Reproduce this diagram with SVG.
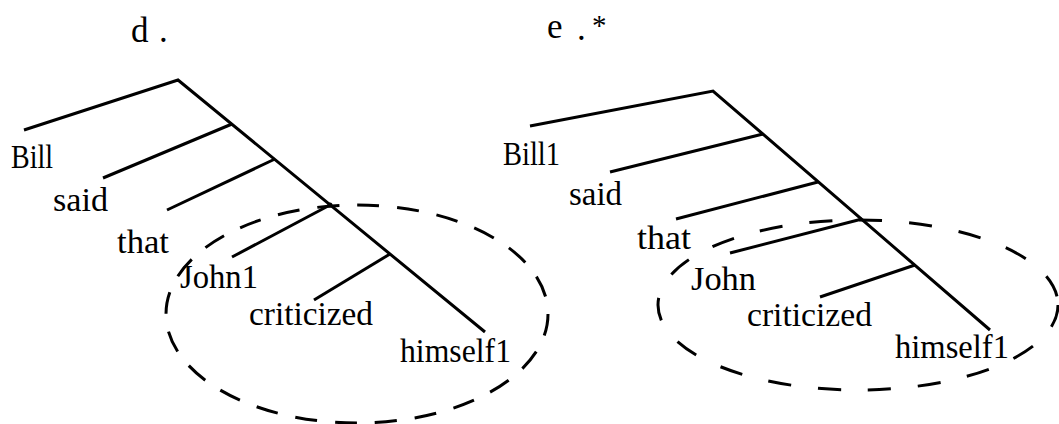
<svg xmlns="http://www.w3.org/2000/svg" width="1059" height="424" viewBox="0 0 1059 424">
  <style>
    .branch { stroke: #000; stroke-width: 3; fill: none; stroke-linecap: butt; }
    .scope { stroke: #000; stroke-width: 3; fill: none; }
    .word { font-family: "Liberation Serif", "Times New Roman", serif; font-size: 33px; fill: #000; }
    .title { font-family: "Liberation Serif", "Times New Roman", serif; font-size: 35px; fill: #000; }
  </style>
  <rect width="1059" height="424" fill="#fff"/>

  <!-- tree d: binding domain includes the antecedent -->
  <g id="tree-d">
    <text class="title" x="131" y="42">d<tspan x="159">.</tspan></text>
    <g id="d-connectors">
      <polyline class="branch" points="24,130 178,80 485,332"/>
      <line class="branch" x1="103" y1="178" x2="232" y2="124"/>
      <line class="branch" x1="167" y1="210" x2="275" y2="159"/>
      <line class="branch" x1="232" y1="257" x2="330" y2="205"/>
      <line class="branch" x1="314" y1="300" x2="390" y2="254"/>
      <circle cx="330" cy="205" r="2.5" fill="#000"/>
    </g>
    <ellipse id="d-domain" class="scope" cx="357" cy="314" rx="191" ry="109" stroke-dasharray="22 18"/>
    <g id="d-bill"><text class="word" x="11" y="168" textLength="42" lengthAdjust="spacingAndGlyphs">Bill</text></g>
    <g id="d-said"><text class="word" x="53" y="211" textLength="55" lengthAdjust="spacingAndGlyphs">said</text></g>
    <g id="d-that"><text class="word" x="117" y="253" textLength="52" lengthAdjust="spacingAndGlyphs">that</text></g>
    <g id="d-john"><text class="word" x="180" y="288" textLength="78" lengthAdjust="spacingAndGlyphs">John1</text></g>
    <g id="d-criticized"><text class="word" x="249" y="325" textLength="124" lengthAdjust="spacingAndGlyphs">criticized</text></g>
    <g id="d-himself"><text class="word" x="400" y="362" textLength="111" lengthAdjust="spacingAndGlyphs">himself1</text></g>
  </g>

  <!-- tree e: antecedent outside the binding domain -->
  <g id="tree-e">
    <text class="title" x="547" y="38">e<tspan x="577" y="40">.</tspan><tspan x="592" y="35" font-size="29">*</tspan></text>
    <g id="e-connectors">
      <polyline class="branch" points="530,126 713,91 990,330"/>
      <line class="branch" x1="610" y1="172" x2="763" y2="134"/>
      <line class="branch" x1="676" y1="219" x2="818" y2="182"/>
      <line class="branch" x1="730" y1="253" x2="862" y2="219"/>
      <line class="branch" x1="820" y1="297" x2="915" y2="265"/>
    </g>
    <ellipse id="e-domain" class="scope" cx="858" cy="305" rx="200" ry="85" stroke-dasharray="23 27"/>
    <g id="e-bill"><text class="word" x="503" y="165" textLength="57" lengthAdjust="spacingAndGlyphs">Bill1</text></g>
    <g id="e-said"><text class="word" x="569" y="205" textLength="53" lengthAdjust="spacingAndGlyphs">said</text></g>
    <g id="e-that"><text class="word" x="637" y="249" textLength="54" lengthAdjust="spacingAndGlyphs">that</text></g>
    <g id="e-john"><text class="word" x="691" y="290" textLength="65" lengthAdjust="spacingAndGlyphs">John</text></g>
    <g id="e-criticized"><text class="word" x="747" y="326" textLength="125" lengthAdjust="spacingAndGlyphs">criticized</text></g>
    <g id="e-himself"><text class="word" x="895" y="358" textLength="114" lengthAdjust="spacingAndGlyphs">himself1</text></g>
  </g>
</svg>
